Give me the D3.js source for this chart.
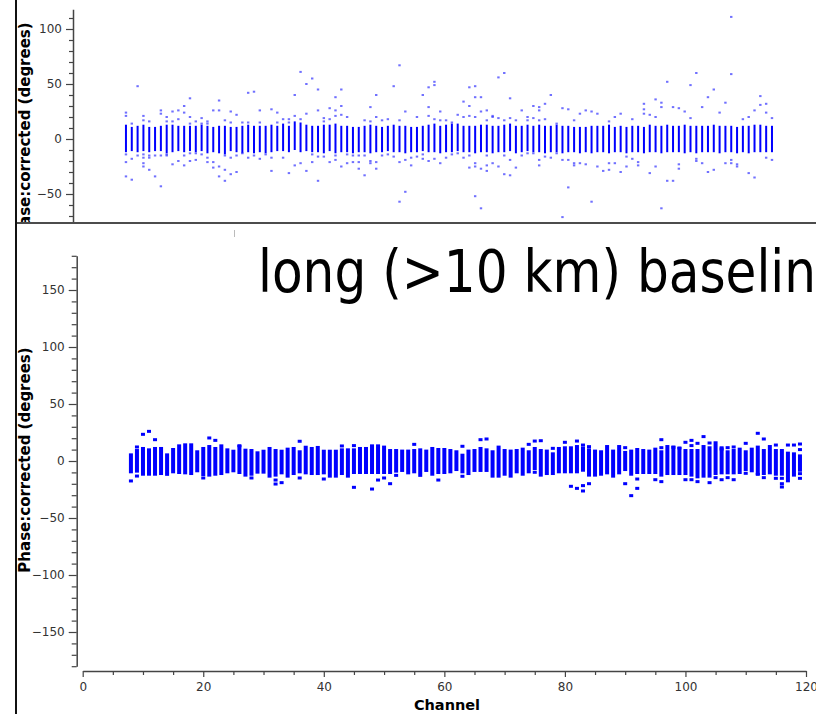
<!DOCTYPE html>
<html>
<head>
<meta charset="utf-8">
<script src="https://cdn.jsdelivr.net/npm/d3@7"></script>
<style>
  body { margin: 0; background: #fff; overflow: hidden; }
  svg { display: block; }
  text { font-family: "DejaVu Sans", sans-serif; }
</style>
</head>
<body>
<div id="chart"></div>
<script>
const channels = [8, 9, 10, 11, 12, 13, 14, 15, 16, 17, 18, 19, 20, 21, 22, 23, 24, 25, 26, 27,
  28, 29, 30, 31, 32, 33, 34, 35, 36, 37, 38, 39, 40, 41, 42, 43, 44, 45, 46, 47,
  48, 49, 50, 51, 52, 53, 54, 55, 56, 57, 58, 59, 60, 61, 62, 63, 64, 65, 66, 67,
  68, 69, 70, 71, 72, 73, 74, 75, 76, 77, 78, 79, 80, 81, 82, 83, 84, 85, 86, 87,
  88, 89, 90, 91, 92, 93, 94, 95, 96, 97, 98, 99, 100, 101, 102, 103, 104, 105, 106, 107,
  108, 109, 110, 111, 112, 113, 114, 115, 116, 117, 118, 119];

// upper plot (all baselines): dense core per channel and scattered points
const topHi = [13, 11, 12, 13, 11, 11, 12, 13, 13, 12, 12, 12, 12, 13, 12, 11, 12, 12, 11, 11,
  12, 13, 12, 12, 12, 13, 12, 14, 12, 16, 15, 13, 12, 12, 13, 13, 14, 12, 12, 11,
  11, 12, 13, 12, 11, 12, 13, 12, 12, 11, 11, 12, 13, 14, 12, 13, 14, 14, 12, 12,
  12, 13, 13, 12, 12, 13, 14, 12, 12, 13, 12, 13, 12, 12, 13, 12, 12, 11, 11, 11,
  12, 12, 12, 13, 11, 12, 11, 12, 12, 11, 13, 12, 12, 13, 12, 12, 13, 12, 12, 12,
  12, 13, 12, 12, 12, 11, 12, 12, 13, 13, 12, 12];
const topLo = [-12, -11, -12, -11, -12, -11, -11, -13, -12, -11, -12, -11, -12, -11, -13, -12, -13, -14, -11, -12,
  -13, -12, -13, -12, -13, -12, -11, -11, -12, -10, -12, -11, -12, -12, -13, -11, -13, -12, -12, -13,
  -12, -12, -13, -12, -12, -11, -12, -12, -13, -12, -12, -11, -12, -12, -13, -12, -12, -11, -12, -12,
  -13, -12, -12, -13, -12, -12, -11, -13, -12, -11, -12, -12, -13, -12, -12, -13, -12, -12, -13, -12,
  -13, -12, -12, -13, -12, -12, -13, -12, -12, -13, -12, -12, -13, -12, -12, -12, -13, -12, -13, -12,
  -12, -12, -13, -12, -12, -13, -12, -13, -12, -12, -12, -12];
const topScatter = [
  [24, 21, -14, -21, -34], [14, -18, -37], [48, -15], [21, 17, -14, -17, -22, -25], [16, -15, -17, -28],
  [-15, -34], [26, 23, -15, -43], [20, 16, -14, -15], [25, 16, -23], [26, 18, -20],
  [30, 24, -15, -24], [37, 20, 14, -13, -20], [16, -13, -19], [19, 14, -14], [16, 14, -17, -21],
  [26, -21, -26], [35, 26, -25, -34], [17, -15, -28, -38], [25, 15, -17, -32], [22, -15, -30],
  [15, -13], [42, 15, -17], [43, -15], [26, 15, -18], [-14],
  [27, -17, -29], [24, 15], [18, -17], [18, 15, -31], [40, 21, -24],
  [61, 18, -22], [50, 23, -29], [55, -14, -21], [45, 26, -16, -38], [19, 16, -16],
  [28, 18, -21], [38, 26, 21, -15, -19], [45, 30, 22, -25], [20, -14, -22], [-15, -21],
  [-15, -21, -27], [17, -15, -33], [29, 16, -20, -22], [40, 20, -21, -27], [17, -15],
  [18, -14], [48, -16], [67, 17, -21, -57], [25, -19, -48], [-17, -24],
  [20, -16], [40, -14, -18], [47, 29, 21, -20], [52, 49, 18, -18], [25, 17, -22],
  [17, -17], [15, -14], [22, -13], [34, 20, -17], [47, 30, 21, -15, -26],
  [48, 38, 20, -22, -25, -52], [38, 25, -27, -63], [26, 17, -15, -24, -29], [21, 20, -22], [56, 19, -25],
  [60, 17, -15, -32], [37, 19, -19, -33], [17, -26], [26, -15], [20, 17, -13],
  [30, 19, -13], [29, 26, 17, -19, -24], [32, 18, -16], [40, -17], [14, -13],
  [28, -19, -71], [27, -19, -44], [17, -22, -24], [23, -22], [26, -23],
  [25, -57], [23, -25], [-29], [16, -22, -28], [20, -22],
  [23, -30], [-16, -25], [18, -18], [-21, -24], [32, 27, 23],
  [22, -31], [36, 20, -25], [33, 29, -63], [52, -38], [29, -38],
  [28, -23, -27], [25], [49, 19], [60, -18, -20], [29, -22],
  [38, -30], [45, -28], [24], [33, -22], [111, 59, -19, -22],
  [-23, -25], [18], [20, -31], [26, -35], [39, 31],
  [32, 24, -17], [19, -19]];

// lower plot (long baselines)
const botHi = [6.7, 10.5, 12.3, 11.1, 12.3, 12.3, 6.7, 11.4, 14.6, 15.5, 15.5, 9.4, 12.3, 14.0, 12.3, 14.6, 11.1, 9.9, 14.0, 10.8,
  10.5, 8.5, 9.9, 12.3, 10.5, 9.9, 11.7, 12.3, 9.4, 13.4, 12.3, 13.2, 9.9, 9.9, 9.9, 11.1, 11.1, 11.1, 12.3, 12.3,
  14.6, 14.6, 13.5, 10.5, 10.5, 10.0, 10.0, 10.5, 11.1, 10.0, 12.3, 11.4, 11.4, 10.5, 9.4, 6.4, 10.0, 10.5, 12.3, 11.1,
  9.4, 13.5, 10.5, 10.0, 10.5, 11.7, 9.4, 12.3, 10.5, 10.0, 7.6, 12.3, 12.9, 12.9, 14.0, 12.6, 11.1, 10.0, 9.4, 14.0,
  10.0, 14.0, 8.8, 10.0, 11.4, 10.5, 10.0, 11.7, 9.4, 14.0, 13.5, 12.3, 10.5, 10.5, 10.5, 14.0, 12.9, 17.3, 12.9, 9.4,
  10.5, 11.7, 9.4, 11.7, 13.5, 10.5, 14.0, 10.5, 10.5, 8.2, 7.6, 5.8];
const botLo = [-10.8, -10.2, -12.9, -12.9, -12.9, -12.3, -10.8, -10.8, -11.4, -11.7, -12.3, -9.9, -13.2, -13.7, -12.9, -12.3, -10.8, -9.9, -11.4, -13.7,
  -12.9, -11.1, -11.1, -14.6, -13.7, -11.7, -14.6, -12.3, -10.8, -11.7, -12.3, -12.3, -11.7, -14.6, -14.6, -12.3, -14.6, -11.4, -11.4, -11.4,
  -11.4, -11.4, -11.4, -11.4, -10.2, -9.6, -11.7, -10.8, -11.4, -9.6, -12.9, -11.4, -11.4, -10.8, -8.8, -10.8, -12.3, -9.6, -9.6, -9.6,
  -14.6, -14.6, -12.9, -14.6, -10.8, -12.9, -10.8, -7.9, -13.7, -12.3, -12.3, -10.8, -10.8, -10.8, -10.8, -9.4, -13.7, -13.7, -12.9, -11.7,
  -14.6, -11.7, -8.8, -12.9, -11.4, -11.4, -11.4, -11.4, -13.7, -12.3, -12.3, -12.3, -12.3, -13.7, -15.2, -14.6, -14.6, -12.3, -11.7, -11.7,
  -11.7, -11.4, -8.8, -9.9, -12.3, -12.3, -11.7, -12.9, -12.9, -18.7, -13.7, -9.4];
const botScatter = [
  [-17.5], [12.3, -13.2], [23.4], [26.0], [18.7], [], [-11.7], [], [], [],
  [], [], [-14.9], [20.2], [18.1], [], [], [], [13.4], [],
  [-14.9], [], [], [], [-16.7, -20.2], [-19.0], [], [], [17.3, -14.9], [],
  [], [], [-15.8], [], [], [13.2], [], [13.5, -23.1], [], [],
  [-24.6], [-16.7], [-14.9], [-19.9], [-12.6], [], [], [14.6], [-12.6], [],
  [], [-16.7], [], [], [], [12.9, -13.4], [], [], [18.7], [19.3],
  [], [], [], [], [], [], [14.6], [17.5, -9.9], [17.8], [],
  [11.1], [], [16.4], [-22.2], [17.5, -24.0], [14.0, -21.6, -26.3], [12.6, -19.9], [], [], [],
  [], [], [11.7, -19.9], [-30.4], [-15.8, -24.0], [], [], [-16.4], [18.7, 11.7, -18.1], [],
  [12.0], [11.4], [16.4, -16.4], [18.1, 13.5, -16.4], [15.5, -18.1], [21.4], [15.8, -19.0], [-14.6], [10.5, -16.4], [11.7, -14.6],
  [12.3, -16.4], [], [15.5, -10.8], [], [24.3, -11.7], [19.3, -14.6], [], [14.0, -15.2], [-15.2, -19.9, -22.8], [14.0],
  [14.0], [14.9, 10.0, -11.1, -15.2]];

const xTicks = [0, 20, 40, 60, 80, 100, 120];
const topYTicks = [100, 50, 0, -50];
const botYTicks = [150, 100, 50, 0, -50, -100, -150];
const yLabel = "Phase:corrected (degrees)";
const xLabel = "Channel";
const bannerText = "long (>10 km) baseline";

const width = 816;
const height = 714;

const svg = d3.select("#chart")
  .append("svg")
  .attr("width", width)
  .attr("height", height);

const axisColor = "#444";
const labelColor = "#333";

function styleAxis(g) {
  g.select(".domain").attr("stroke", axisColor).attr("stroke-width", 1.5);
  g.selectAll(".tick line").attr("stroke", axisColor).attr("stroke-width", 1.2);
  g.selectAll(".tick text")
    .attr("fill", labelColor)
    .style("font-size", "12px")
    .style("font-family", "'DejaVu Sans', sans-serif");
}

// ---------- upper plot (cropped) ----------
svg.append("clipPath").attr("id", "topClip")
  .append("rect").attr("x", 0).attr("y", 0).attr("width", width).attr("height", 222);

const topG = svg.append("g").attr("clip-path", "url(#topClip)");

const topX = d3.scaleLinear().domain([0, 120]).range([79.4, 777.8]);
const topY = d3.scaleLinear().domain([-118, 118]).range([268.8, 9.2]);

const topAxis = topG.append("g").attr("transform", "translate(73,0)")
  .call(d3.axisLeft(topY).tickValues(topYTicks).tickSize(7).tickSizeOuter(0).tickPadding(4));
styleAxis(topAxis);
const topMinor = topG.append("g").attr("transform", "translate(73,0)")
  .call(d3.axisLeft(topY).tickValues(d3.range(-110, 111, 10).filter(v => v % 50 !== 0))
    .tickSize(4).tickSizeOuter(0).tickFormat(""));
styleAxis(topMinor);
topMinor.select(".domain").remove();

topG.append("text")
  .attr("transform", "translate(30,135) rotate(-90)")
  .attr("text-anchor", "middle")
  .style("font-size", "15px")
  .style("font-weight", "bold")
  .text(yLabel);

const topCh = channels.map((c, i) => ({ c, hi: topHi[i], lo: topLo[i] }));
topG.append("g").selectAll("rect")
  .data(topCh)
  .join("rect")
  .attr("x", d => topX(d.c) - 1)
  .attr("width", 2)
  .attr("y", d => topY(d.hi))
  .attr("height", d => topY(d.lo) - topY(d.hi))
  .attr("fill", "#0000ff");

const topPts = channels.flatMap((c, i) => topScatter[i].map(v => ({ c, v })));
topG.append("g").selectAll("rect")
  .data(topPts)
  .join("rect")
  .attr("x", d => topX(d.c) - 1.2)
  .attr("width", 2.4)
  .attr("y", d => topY(d.v) - 1)
  .attr("height", 2)
  .attr("fill", "#3333ff")
  .attr("opacity", 0.7);

// frame lines of the pasted panels
svg.append("line").attr("x1", 16).attr("x2", width).attr("y1", 223).attr("y2", 223)
  .attr("stroke", "#111").attr("stroke-width", 1.6);
svg.append("line").attr("x1", 16).attr("x2", 16).attr("y1", 0).attr("y2", height)
  .attr("stroke", "#111").attr("stroke-width", 2);
svg.append("line").attr("x1", 234.5).attr("x2", 234.5).attr("y1", 230).attr("y2", 237)
  .attr("stroke", "#bbb").attr("stroke-width", 1);

// ---------- lower plot ----------
const botX = d3.scaleLinear().domain([0, 120]).range([82.7, 806]);
const botY = d3.scaleLinear().domain([-180, 180]).range([666.2, 255.8]);

const botYAxis = svg.append("g").attr("transform", "translate(76.7,0)")
  .call(d3.axisLeft(botY).tickValues(botYTicks).tickSize(8).tickSizeOuter(0).tickPadding(4));
styleAxis(botYAxis);
const botYMinor = svg.append("g").attr("transform", "translate(76.7,0)")
  .call(d3.axisLeft(botY).tickValues(d3.range(-180, 181, 10).filter(v => v % 50 !== 0))
    .tickSize(5).tickSizeOuter(0).tickFormat(""));
styleAxis(botYMinor);
botYMinor.select(".domain").remove();

const botXAxis = svg.append("g").attr("transform", "translate(0,671)")
  .call(d3.axisBottom(botX).tickValues(xTicks).tickSize(6).tickSizeOuter(0).tickPadding(5));
styleAxis(botXAxis);
const botXMinor = svg.append("g").attr("transform", "translate(0,671)")
  .call(d3.axisBottom(botX).tickValues(d3.range(0, 121, 5).filter(v => v % 20 !== 0))
    .tickSize(4).tickSizeOuter(0).tickFormat(""));
styleAxis(botXMinor);
botXMinor.select(".domain").remove();

svg.append("text")
  .attr("transform", "translate(30,460) rotate(-90)")
  .attr("text-anchor", "middle")
  .style("font-size", "15px")
  .style("font-weight", "bold")
  .text(yLabel);

svg.append("text")
  .attr("x", 447)
  .attr("y", 710)
  .attr("text-anchor", "middle")
  .style("font-size", "14.5px")
  .style("font-weight", "bold")
  .text(xLabel);

const botCh = channels.map((c, i) => ({ c, hi: botHi[i], lo: botLo[i] }));
svg.append("g").selectAll("rect")
  .data(botCh)
  .join("rect")
  .attr("x", d => botX(d.c) - 2)
  .attr("width", 4)
  .attr("y", d => botY(d.hi))
  .attr("height", d => botY(d.lo) - botY(d.hi))
  .attr("fill", "#0000ff");

const botPts = channels.flatMap((c, i) => botScatter[i].map(v => ({ c, v })));
svg.append("g").selectAll("rect")
  .data(botPts)
  .join("rect")
  .attr("x", d => botX(d.c) - 2)
  .attr("width", 4)
  .attr("y", d => botY(d.v) - 1.5)
  .attr("height", 3)
  .attr("fill", "#0000ff");

// big annotation (narrow face in the original, so squeeze horizontally)
svg.append("text")
  .attr("transform", "translate(258,292) scale(0.85,1)")
  .style("font-size", "59px")
  .style("font-family", "'DejaVu Sans', sans-serif")
  .attr("fill", "#000")
  .text(bannerText);
</script>
</body>
</html>
